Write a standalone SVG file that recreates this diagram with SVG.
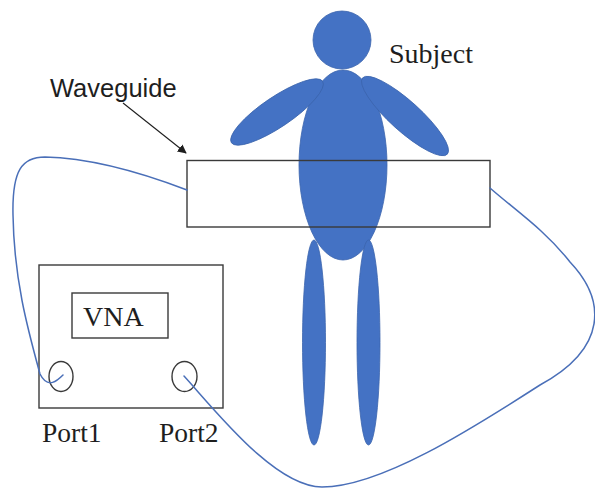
<svg xmlns="http://www.w3.org/2000/svg" width="595" height="489" viewBox="0 0 595 489">
  <style>
    .limb { fill: #4472C4; stroke: #3b64ad; stroke-width: 0.8; }
    .frame { fill: none; stroke: #3a3a3a; stroke-width: 1.4; }
    .cable { fill: none; stroke: #4a6fb8; stroke-width: 1.5; stroke-linecap: round; }
    .serif { font-family: "Liberation Serif", "Times New Roman", serif; fill: #1e1e1e; }
    .sans { font-family: "Liberation Sans", Arial, sans-serif; fill: #1e1e1e; }
  </style>
  <defs>
    <marker id="arrowhead" viewBox="0 0 10 10" refX="9" refY="5" markerWidth="9" markerHeight="9" markerUnits="userSpaceOnUse" orient="auto">
      <path d="M0,0 L10,5 L0,10 z" fill="#1e1e1e"/>
    </marker>
  </defs>

  <rect width="595" height="489" fill="#ffffff"/>

  <!-- human figure -->
  <g id="subject">
    <ellipse class="limb" cx="343" cy="165" rx="44" ry="95"/>
    <circle class="limb" cx="342" cy="40" r="29"/>
    <ellipse class="limb" cx="277" cy="112" rx="55" ry="15" transform="rotate(-34 277 112)"/>
    <ellipse class="limb" cx="405" cy="116" rx="57" ry="15" transform="rotate(42 405 116)"/>
    <ellipse class="limb" cx="314" cy="342.5" rx="11.5" ry="102.5"/>
    <ellipse class="limb" cx="368.5" cy="342.5" rx="11.5" ry="102.5"/>
    <text class="serif" x="389" y="63" font-size="28">Subject</text>
  </g>

  <!-- waveguide band around the waist -->
  <g id="waveguide">
    <rect class="frame" x="187" y="160.5" width="303" height="66.5"/>
    <text class="sans" x="50" y="97" font-size="25.5">Waveguide</text>
  </g>

  <!-- network analyser -->
  <g id="vna">
    <rect class="frame" x="39" y="265" width="184" height="143"/>
    <rect class="frame" x="72" y="293" width="96" height="45"/>
    <text class="serif" x="83" y="326" font-size="28">VNA</text>
  </g>
  <g id="port1">
    <ellipse class="frame" cx="61" cy="376.5" rx="12" ry="15"/>
    <text class="serif" x="42" y="442" font-size="27.5">Port1</text>
  </g>
  <g id="port2">
    <ellipse class="frame" cx="184.5" cy="376.5" rx="12.5" ry="15"/>
    <text class="serif" x="159" y="442" font-size="27.5">Port2</text>
  </g>

  <!-- cables and label pointer -->
  <g id="connectors">
    <path class="cable" d="M63,375 C58,380 48,390 40,374 C28,330 14,280 13,215 C12,170 22,157 45,157 C90,158 140,172 187,190"/>
    <path class="cable" d="M184,376 C215,410 275,487 322,487 C380,487 470,430 540,385 C608,348 606,300 570,262 C545,230 515,210 490,188"/>
    <line x1="123" y1="103" x2="186" y2="153" stroke="#1e1e1e" stroke-width="1.1" marker-end="url(#arrowhead)"/>
  </g>
</svg>
